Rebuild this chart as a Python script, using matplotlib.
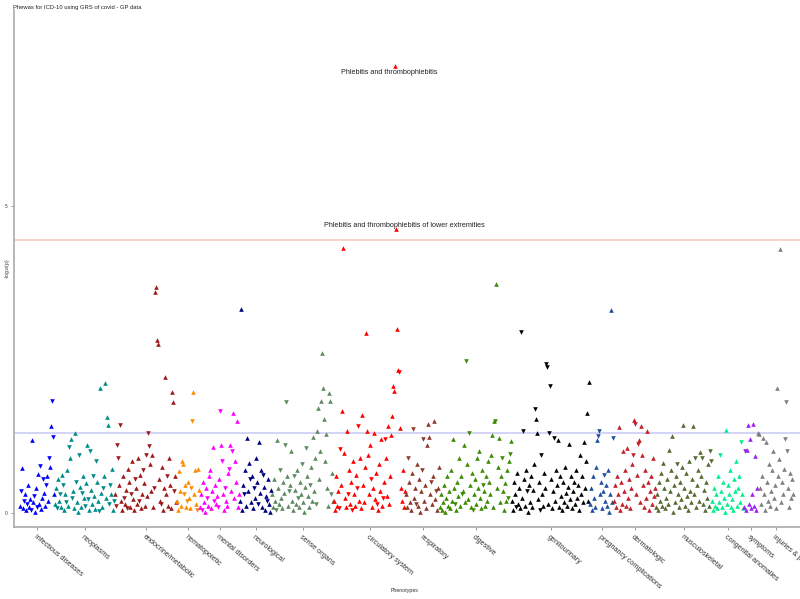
import matplotlib
matplotlib.use("Agg")
import matplotlib.pyplot as plt
import numpy as np

plt.rcParams['font.family'] = ['Liberation Sans', 'DejaVu Sans']

# signed -log10(p): sign gives direction of effect (up / down triangle)
infectious = [0.12, -0.35, 0.73, 0.08, -0.2, 0.3, 0.05, -0.15, 0.45, 0.1, 0.22, -0.05, 1.19, 0.18, -0.28, 0.02, 0.4,
              -0.1, 0.63, 0.15, -0.76, 0.07, 0.25, -0.55, 0.33, 0.12, -0.45, 0.6, 0.2, -0.9, 0.75, 1.42, -1.82, -1.24, 0.3]
neoplasms = [0.15, 0.4, -0.08, 0.55, 0.2, -0.3, 0.1, 0.62, -0.45, 0.05, 0.3, -0.18, 0.7, 0.12, -1.08, 0.9, 1.2, -0.25,
             0.35, 0.08, 1.3, -0.5, 0.18, 0.02, -0.95, 0.42, 0.1, -0.32, 0.6, 0.25, -0.12, 0.48, 1.1, -0.22, 0.05, -1.0,
             0.38, 0.15, -0.6, 0.28, 0.07, -0.85, 0.5, 0.2, -0.03, 2.03, 0.33, 0.1, -0.4, 0.6, 2.12, 0.25, 1.56, 1.43,
             -0.15, -0.45, 0.3, 0.72, 0.05, -0.2]
endocrine = [0.3, -0.12, -1.1, -0.9, 0.45, -1.43, 0.2, 0.05, 0.6, -0.25, 0.15,
             0.38, -0.08, 0.72, 0.5, 0.1, -0.3, 0.85, 0.22, 0.04, -0.55, 0.4, 0.15,
             0.9, -0.2, 0.62, 0.08, 0.3, -0.7, 0.48, 0.12, -0.95, 0.27,
             -1.3, -1.09, 0.8, 0.35, 0.95, 0.1, -0.4, 3.6, 3.68, 2.82, 2.75,
             0.55, 0.2, -0.15, 0.75, 0.05, 0.4, 2.21, 0.3, -0.6, 0.12, 0.9, 0.45, 0.08, 1.97, 1.81, -0.35, 0.6, 0.18]
hematopoietic = [0.2, 0.05, 0.68, 0.35, 0.12, 0.85, 0.8, -0.3, 0.45, 0.1, -0.2, 0.5, 0.25, 0.08, -0.4, -1.5, 1.97,
                 0.3, 0.7, 0.15, -0.05, 0.72, 0.38]
mental = [0.1, 0.3, -0.05, 0.5, 0.18, 0.02, 0.4, -0.25, 0.12, 0.6, 0.7, 0.08, 0.35, 1.07, -0.2, 0.45, 0.15, 0.28, -0.1,
          0.55, -1.66, 1.1, -0.85, 0.3, 0.05, -0.4, 0.2, 0.12, 0.65, -0.72, 1.1, 0.35, -1.0, 1.63, 0.25, 0.85, 0.5, 1.5,
          0.1, 0.3]
neurological = [0.2, 3.32, 0.05, 0.45, -0.3, 0.7, 0.12, 1.22, 0.35, 0.82, -0.55, 0.18, 0.6, 0.08, -0.4, 0.25, 0.9, 0.5,
                -0.15, 1.16, 0.33, 0.7, 0.1, -0.62, 0.42, 0.05, 0.28, -0.2, 0.55, 0.15, 0.02, 0.38]
sense_organs = [0.3, 0.1, 0.55, 0.2, -0.05, 1.19, 0.4, 0.15, -0.7, 0.25,
                0.08, 0.5, 0.32, -1.1, -1.81, 0.6, 0.12, -0.35, 0.45, 1.0,
                0.2, 0.05, -0.6, 0.38, 0.15, 0.7, -0.25, 0.1, 0.5, 0.3,
                -0.8, 0.18, 0.02, 0.42, -1.05, 0.6, 0.28, 0.1, -0.45, 0.75,
                0.2, 1.24, 0.35, 0.9, -0.15, 1.34, 1.7, 0.55, 1.0, 1.82,
                2.6, 2.04, 1.53, 0.84, 1.28, 0.4, 0.12, 1.95, 1.82, -0.3, 0.65, 0.2]
circulatory = [0.2, 0.05, 0.6, 0.12, 0.35, -0.08, -1.04, 0.45, 1.66, 4.32,
               0.98, 0.25, 0.1, 1.34, -0.3, 0.7, 0.15, 0.5, -0.05, 0.85,
               0.3, 0.12, 0.62, -0.4, -1.42, 0.2, 0.9, 0.08, 1.6, 0.45,
               0.18, 0.75, 2.93, 1.34, 0.95, 0.3, 1.1, -0.55, 0.1, 0.4,
               1.3, 0.22, 0.65, -0.15, 0.05, 0.8, 0.35, 1.2, 0.12, -0.25,
               0.5, -1.2, 0.9, 0.28, 1.42, 0.15, 0.6, 1.27, 1.58, 2.07,
               1.99, 7.28, 4.63, 3.0, 2.33, -2.3, 1.38, 0.4, 0.2, 0.7, 0.1, 0.35]
respiratory = [0.3, 0.1, -0.9, 0.5, 0.18, 0.05, 0.65, -1.37, 0.25, 0.4, -0.15, 0.8, 0.12, 0.55, 0.02, 0.35, -0.7,
               -1.2, 0.2, 0.45, 0.08, 1.1, 1.45, 1.23, 0.3, -0.5, 0.15, 0.6, 1.5, 0.22, -0.35, 0.05, 0.4, 0.75]
digestive = [0.1, 0.3, 0.05, 0.18, 0.45, 0.02, 0.25, 0.6, 0.12, 0.35,
             0.08, 0.7, 0.2, 1.2, 0.4, -0.15, 0.05, 0.5, 0.28, 0.9,
             0.12, 0.6, -0.3, 0.35, 1.1, 0.18, -2.48, 0.8, 0.22, -1.3,
             0.45, 0.1, 0.65, -0.05, 0.3, 0.55, 0.15, 0.9, 0.4, 1.0,
             0.25, 0.08, 0.7, -0.45, 0.35, 0.12, 0.6, 0.2, 0.85, 0.5,
             0.3, 0.95, 1.27, 0.1, 1.5, -1.5, 3.73, 0.4, 0.75, 1.22,
             0.18, 0.6, -0.9, 0.35, 0.05, 0.48, 0.2, 0.7, -0.25, 0.85, -0.96, 1.17]
genitourinary = [0.2, 0.05, 0.5, 0.3, -0.1, 0.65, 0.15, 0.4, 0.08, -2.95,
                 0.25, -1.34, 0.55, 0.12, 0.7, -0.35, 0.02, 0.45, 0.18, 0.6,
                 0.1, 0.38, 0.8, -1.69, 1.53, 1.3, 0.22, 0.5, -0.05, -0.95,
                 0.3, 0.12, 0.65, 0.4, -2.43, -2.38, 0.15, -1.3, -2.07, 0.55,
                 0.08, 0.35, -1.22, 0.2, 0.7, 0.45, 1.18, 0.1, 0.6, 0.28,
                 0.05, 0.5, 0.18, 0.75, 0.32, 0.12, 0.42, 1.12, 0.22, 0.6,
                 0.08, 0.35, 0.5, 0.15, 0.7, 0.25, 0.45, 0.05, 0.95, 0.3,
                 0.6, 0.18, 1.15, 0.4, 0.85, 1.63, 0.2, 2.13]
pregnancy = [0.15, 0.4, 0.05, 0.6, 0.25, 0.1, 0.75, 1.18, -1.25, -1.34, 0.3, 0.5, 0.08, 0.35, -0.62, 0.2, 0.45, 0.12,
             0.7, 0.02, 0.3, 3.31, 0.18, -1.22]
dermatologic = [0.2, 0.45, 0.1, 0.6, 0.3, 1.4, 0.05, 0.5, 0.15, 1.0,
                0.35, 0.7, 0.12, 1.06, 0.25, 0.55, 0.08, 0.4, 0.8, -0.95,
                1.52, -1.45, 0.3, 0.62, -1.12, 1.18, 0.18, 1.42, 0.95, 0.45,
                0.1, 0.7, 0.25, 1.33, 0.5, 0.05, 0.35, 0.6, 0.15, 0.9, 0.28, 0.4]
musculoskeletal = [0.1, 0.3, 0.05, 0.5, 0.2, 0.65, 0.12, 0.82, 0.4, 0.08,
                   0.25, 0.55, 0.15, 1.03, 0.35, 0.7, 1.25, 0.02, 0.45, 0.18,
                   0.6, -0.8, 0.3, 0.1, 0.5, 0.22, 0.75, 1.43, 0.4, 0.12,
                   0.65, 0.28, 0.05, 0.85, 0.35, 0.18, 0.55, 1.42, 0.3, -0.9,
                   0.1, 0.45, 0.7, 0.2, 0.99, 0.6, -0.9, 0.15, 0.38, 0.05,
                   0.5, 0.25, 0.8, 0.12, -1.0, -0.85]
congenital = [0.2, 0.05, 0.4, 0.12, 0.3, 0.08, 0.6, 0.18, -0.95, 0.35, 0.1, 0.5, 0.25, 0.02, 1.35, 0.15, 0.45, 0.3,
              0.7, 0.1, 0.22, 0.05, 0.55, 0.35, 0.85, 0.12, 0.4, 0.6, 0.18, -1.15, 0.3, 0.08]
symptoms = [0.1, -1.0, 0.05, 1.03, 1.43, 0.15, 1.2, 0.08, 0.3, 1.45, 0.12, 0.92, 0.05, 0.4]
injuries = [1.3, 1.28, 0.4, 0.15, 0.6, 1.22, 0.3, 0.05, 1.15, 0.5, 0.2, 0.8, 0.12, 0.35, 0.7, 1.0, 0.25, 0.45, 0.08,
            2.04, 0.6, 0.87, 4.3, 0.18, 0.5, 0.3, 0.72, -1.2, -1.81, -1.0, 0.4, 0.1, 0.65, 0.25, 0.55, 0.3]

groups = ["infectious diseases", "neoplasms", "endocrine/metabolic", "hematopoietic", "mental disorders",
          "neurological", "sense organs", "circulatory system", "respiratory", "digestive", "genitourinary",
          "pregnancy complications", "dermatologic", "musculoskeletal", "congenital anomalies", "symptoms",
          "injuries & poisonings"]
group_values = [infectious, neoplasms, endocrine, hematopoietic, mental, neurological, sense_organs, circulatory,
                respiratory, digestive, genitourinary, pregnancy, dermatologic, musculoskeletal, congenital,
                symptoms, injuries]
colors = ["#0000FF", "#008B8B", "#9E1A1A", "#FF8C00", "#FF00FF", "#000080", "#5F8A5F", "#FF0000", "#8B3A2A",
          "#3C8B00", "#000000", "#1F4E9E", "#C41E2A", "#556B2F", "#00F08C", "#A020F0", "#7F7F7F"]

p_nominal = 1.3
p_bonferroni = 4.45
labels = {7.28: "Phlebitis and thrombophlebitis",
          4.63: "Phlebitis and thrombophlebitis of lower extremities"}

fig = plt.figure(figsize=(8, 5.99), dpi=100)
ax = fig.add_axes([0.0175, 0.1202, 1.02, 0.8631])

ax.axhline(p_nominal, color="#C8C8F4", lw=1.1, zorder=1)
ax.axhline(p_bonferroni, color="#F6C4C4", lw=1.1, zorder=1)

start = 0
centers = []
for vals, col in zip(group_values, colors):
    v = np.array(vals)
    x = np.arange(start, start + len(v))
    up = v >= 0
    ax.scatter(x[up], v[up], marker="^", s=11, color=col, linewidths=0, zorder=3)
    ax.scatter(x[~up], -v[~up], marker="v", s=11, color=col, linewidths=0, zorder=3)
    for xi, vi in zip(x, v):
        if vi in labels:
            off = (-6, -7) if vi > 6 else (8, 3)
            ax.annotate(labels[vi], (xi, vi), xytext=off, textcoords="offset pixels",
                        ha="center", va="center", fontsize=5.2, color="#222222")
    centers.append(x.mean())
    start += len(v)

ax.set_xlim(-6, 810)
ax.set_ylim(-0.23, 8.19)
ax.set_xticks(centers)
ax.set_xticklabels(groups, rotation=-40, ha="left", va="top", rotation_mode="anchor", fontsize=5.2,
                   color="#333333")
ax.set_yticks([0, 5])
ax.set_yticklabels(["0", "5"], fontsize=3.5, color="#444444")
ax.tick_params(axis="both", length=2.5, width=0.6, color="#888888", pad=2)
for side in ["top", "right"]:
    ax.spines[side].set_visible(False)
for side in ["left", "bottom"]:
    ax.spines[side].set_color("#AAAAAA")
    ax.spines[side].set_linewidth(1.2)

ax.set_ylabel("-log$_{10}$(p)", fontsize=3.6, color="#333333", labelpad=2)
ax.yaxis.set_label_coords(-0.003, 0.5)
fig.text(0.506, 0.01, "Phenotypes", fontsize=3.8, ha="center", va="bottom", color="#333333")
fig.text(0.016, 0.992, "Phewas for ICD-10 using GRS of covid - GP data", fontsize=4.2, ha="left", va="top",
         color="#222222")

fig.savefig("out.png", dpi=100)
